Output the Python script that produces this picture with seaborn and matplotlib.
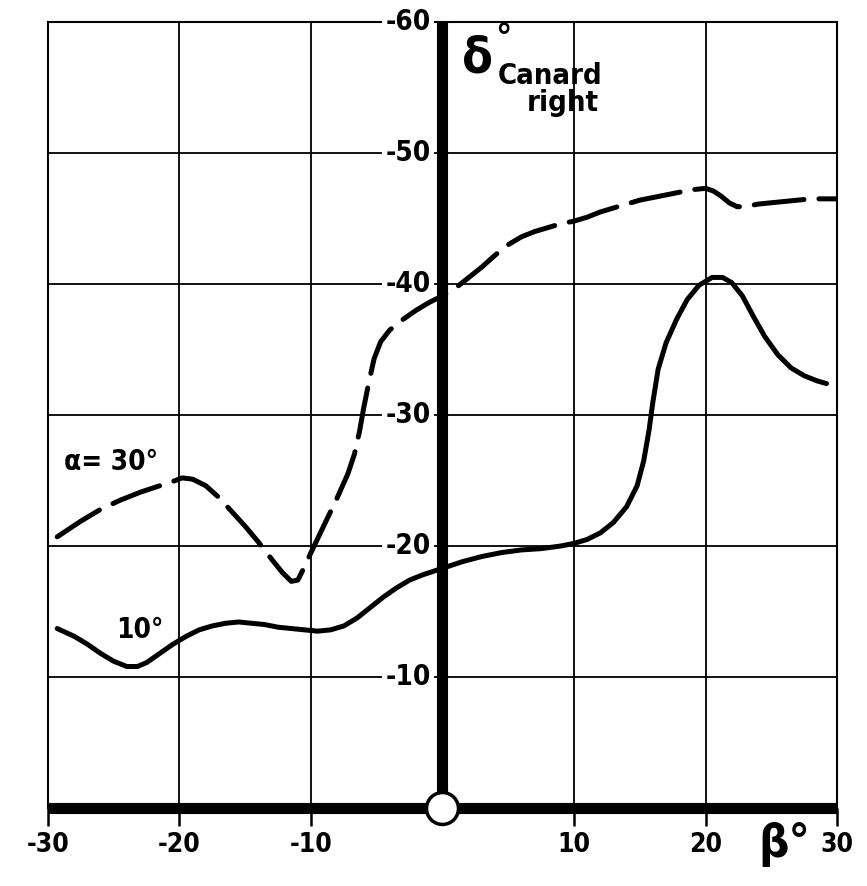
import matplotlib
matplotlib.use("Agg")
import matplotlib.pyplot as plt
from matplotlib import font_manager
import seaborn as sns

# Sideslip angle beta (deg) and right canard deflection delta (deg)
beta_a30 = [-29.3, -27.5, -26.0, -24.5, -23.0, -21.5, -20.3, -19.8, -19.0, -18.0,
            -17.0, -16.0, -15.0, -14.0, -13.0, -12.2, -11.5, -11.0, -10.6, -10.0,
            -9.0, -8.0, -7.2, -6.7, -6.3, -6.0, -5.6, -5.2, -4.7, -4.0,
            -3.0, -2.0, -1.0, 0.0, 1.0, 2.0, 3.0, 4.0, 5.0, 6.0,
            7.0, 8.0, 9.0, 10.0, 11.0, 12.0, 13.0, 14.0, 15.0, 16.0,
            17.0, 18.0, 19.0, 20.0, 20.6, 21.2, 21.8, 22.4, 23.0, 24.0,
            25.0, 26.0, 27.0, 28.0, 29.0, 30.0]
delta_a30 = [-20.7, -21.9, -22.8, -23.5, -24.1, -24.6, -25.0, -25.2, -25.1, -24.6,
             -23.7, -22.6, -21.5, -20.3, -19.0, -18.0, -17.3, -17.4, -18.2, -19.5,
             -21.6, -23.7, -25.5, -27.0, -28.8, -30.5, -32.5, -34.3, -35.6, -36.5,
             -37.3, -38.0, -38.6, -39.1, -39.7, -40.5, -41.3, -42.2, -43.0, -43.6,
             -44.0, -44.3, -44.6, -44.8, -45.1, -45.5, -45.8, -46.1, -46.4, -46.6,
             -46.8, -47.0, -47.2, -47.3, -47.1, -46.7, -46.2, -45.9, -45.9, -46.1,
             -46.2, -46.3, -46.4, -46.5, -46.5, -46.5]

beta_a10 = [-29.3, -28.0, -27.0, -26.0, -25.0, -24.0, -23.2, -22.5, -21.5, -20.5,
            -19.5, -18.5, -17.5, -16.5, -15.5, -14.5, -13.5, -12.5, -11.5, -10.5,
            -9.5, -8.5, -7.5, -6.5, -5.5, -4.5, -3.5, -2.5, -1.5, 0.0,
            1.5, 3.0, 4.5, 6.0, 7.5, 9.0, 10.0, 11.0, 12.0, 13.0,
            14.0, 14.8, 15.3, 15.7, 16.0, 16.4, 17.0, 17.8, 18.6, 19.5,
            20.5, 21.3, 22.0, 22.8, 23.6, 24.5, 25.5, 26.5, 27.5, 28.5, 29.2]
delta_a10 = [-13.7, -13.1, -12.5, -11.8, -11.2, -10.8, -10.8, -11.1, -11.8, -12.5,
             -13.1, -13.6, -13.9, -14.1, -14.2, -14.1, -14.0, -13.8, -13.7, -13.6,
             -13.5, -13.6, -13.9, -14.5, -15.3, -16.1, -16.8, -17.4, -17.8, -18.3,
             -18.8, -19.2, -19.5, -19.7, -19.8, -20.0, -20.2, -20.5, -21.0, -21.8,
             -23.0, -24.6, -26.5, -28.8, -31.0, -33.5, -35.5, -37.3, -38.8, -39.9,
             -40.5, -40.5, -40.1, -39.1, -37.6, -36.0, -34.6, -33.6, -33.0, -32.6, -32.4]

x_ticks = [-30, -20, -10, 10, 20, 30]
x_tick_labels = ["-30", "-20", "-10", "10", "20", "30"]
y_ticks = [-60, -50, -40, -30, -20, -10]
y_tick_labels = ["-60", "-50", "-40", "-30", "-20", "-10"]
x_grid = [-20, -10, 10, 20]
y_grid = [-50, -40, -30, -20, -10]

sns.set_theme(style="white")

# Pick a narrow sans face if one is installed
available = {f.name for f in font_manager.fontManager.ttflist}
family = "DejaVu Sans"
stretch = "normal"
for cand in ["Liberation Sans Narrow", "DejaVu Sans Condensed"]:
    if cand in available:
        family = cand
        break
else:
    stretch = "condensed"
plt.rcParams["font.family"] = [family, "DejaVu Sans"]
plt.rcParams["text.color"] = "black"
plt.rcParams["xtick.color"] = "black"
plt.rcParams["xtick.labelcolor"] = "black"


def fp(size, weight="bold"):
    return dict(fontsize=size, fontweight=weight, fontstretch=stretch,
                family=[family, "DejaVu Sans"], color="black")


fig = plt.figure(figsize=(8.67, 8.86), dpi=100)
ax = fig.add_axes([48 / 867, 78 / 886, (837 - 48) / 867, (808 - 22) / 886])
ax.set_facecolor("white")

ax.set_xlim(-30, 30)
ax.set_ylim(0, -60)

# grid lines
for xv in x_grid:
    ax.axvline(xv, color="black", linewidth=1.3, zorder=1)
for yv in y_grid:
    ax.axhline(yv, color="black", linewidth=1.3, zorder=1)

for side in ["left", "right", "top"]:
    ax.spines[side].set_color("black")
    ax.spines[side].set_linewidth(1.5)
ax.spines["bottom"].set_color("black")
ax.spines["bottom"].set_linewidth(8)
ax.spines["bottom"].set_capstyle("butt")

# x ticks below the thick base line (none at the origin)
ax.set_xticks(x_ticks)
ax.set_xticklabels(x_tick_labels, **fp(19))
ax.tick_params(axis="x", direction="out", length=13, width=1.8,
               color="black", pad=4, bottom=True)
ax.set_yticks([])
ax.tick_params(axis="y", length=0, labelleft=False)

# vertical zero axis
ax.axvline(0, color="black", linewidth=8, zorder=3, solid_capstyle="butt")

# y labels sitting on the zero axis
for yv, lab in zip(y_ticks, y_tick_labels):
    ax.text(-0.9, yv, lab, ha="right", va="center", zorder=4,
            bbox=dict(boxstyle="square,pad=0.12", fc="white", ec="none"),
            **fp(20))

# curves
sns.lineplot(x=beta_a30, y=delta_a30, ax=ax, sort=False, estimator=None,
             color="black", linewidth=3.6, linestyle=(0, (10, 3)),
             dash_capstyle="round", zorder=5)
sns.lineplot(x=beta_a10, y=delta_a10, ax=ax, sort=False, estimator=None,
             color="black", linewidth=3.6, solid_capstyle="round", zorder=5)

# origin circle
ax.plot([0], [0], marker="o", markersize=23, markerfacecolor="white",
        markeredgecolor="black", markeredgewidth=2.5, clip_on=False, zorder=6)

# curve labels
ax.text(-28.8, -26.4, "α= 30°", ha="left", va="center", zorder=6, **fp(20))
ax.text(-23.0, -13.6, "10°", ha="center", va="center", zorder=6, **fp(20))

# vertical axis title
ax.text(1.5, -57.2, "δ", ha="left", va="center", zorder=6, **fp(36))
ax.text(4.0, -60.0, "°", ha="left", va="top", zorder=6, **fp(26))
ax.text(4.2, -55.9, "Canard", ha="left", va="center", zorder=6, **fp(21))
ax.text(6.4, -53.8, "right", ha="left", va="center", zorder=6, **fp(21))

# horizontal axis title
ax.text(24.0, 2.8, "β°", ha="left", va="center", zorder=6, clip_on=False, **fp(34))

ax.set_xlabel("")
ax.set_ylabel("")

fig.savefig("out.png", dpi=100, facecolor="white")
